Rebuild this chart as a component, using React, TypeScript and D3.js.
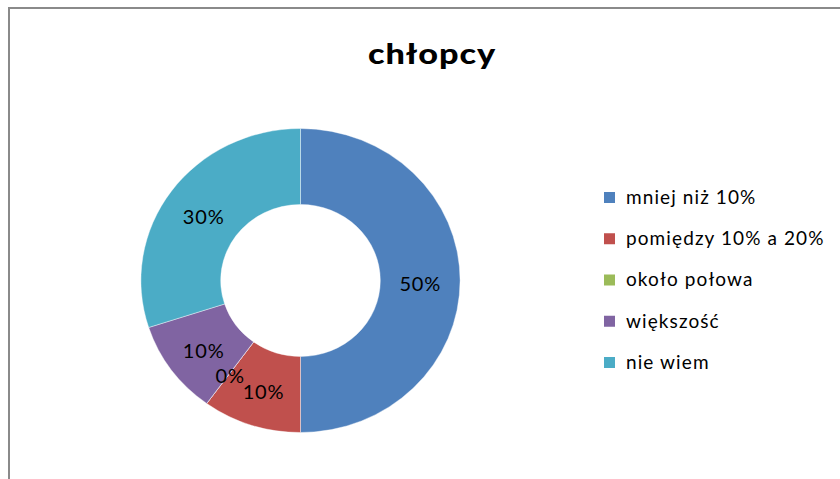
import React from "react";
import * as d3 from "d3";

// data
const title = "chłopcy";
const categories = ["mniej niż 10%", "pomiędzy 10% a 20%", "około połowa", "większość", "nie wiem"];
const values = [50, 10, 0, 10, 30];
const colors = ["#4F81BD", "#C0504D", "#9BBB59", "#8064A2", "#4BACC6"];

const FONT = "Lato, 'Noto Sans', sans-serif";

export default function App() {
  const width = 840;
  const height = 479;
  const cx = 300.5;
  const cy = 280.5;
  const outerR = 152;
  const innerR = 76;
  const sx = 1.05; // the reference donut is slightly wider than tall

  const pie = d3
    .pie<number>()
    .sort(null)
    .value((d) => d);
  const arcs = pie(values);

  const arc = d3.arc<d3.PieArcDatum<number>>().innerRadius(innerR).outerRadius(outerR);

  const total = d3.sum(values);
  const fmt = (v: number) => `${Math.round((v / total) * 100)}%`;

  // legend rows
  const legendY = d3.scalePoint<string>().domain(categories).range([198, 363]);

  return (
    <svg
      width={width}
      height={height}
      style={{ position: "absolute", left: 0, top: 0, background: "#fff" }}
    >
      <rect x={9} y={8} width={900} height={600} fill="none" stroke="#8a8a8a" strokeWidth={2} />

      {/* title glyphs in the reference are wide, so stretch horizontally */}
      <g transform="translate(432,64) scale(1.18,1)">
        <text
          x={0}
          y={0}
          textAnchor="middle"
          fontFamily={FONT}
          fontWeight="900"
          fontSize={29}
          letterSpacing={0.8}
          fill="#000"
        >
          {title}
        </text>
      </g>

      <g transform={`translate(${cx},${cy}) scale(${sx},1)`}>
        {arcs.map((a, i) => (
          <path key={i} d={arc(a) || ""} fill={colors[i]} stroke="#fff" strokeWidth={0.4} />
        ))}
      </g>

      {arcs.map((a, i) => {
        const [x, y] = arc.centroid(a);
        return (
          <text
            key={i}
            x={cx + x * sx}
            y={cy + y + 5}
            textAnchor="middle"
            dominantBaseline="middle"
            fontFamily={FONT}
            fontSize={20}
            letterSpacing={0.8}
            fill="#000"
          >
            {fmt(values[i])}
          </text>
        );
      })}

      <g>
        {categories.map((c, i) => (
          <g key={c} transform={`translate(604,${legendY(c)})`}>
            <rect x={0} y={-6} width={11} height={11} fill={colors[i]} />
            <text
              x={22}
              y={1}
              dominantBaseline="middle"
              fontFamily={FONT}
              fontSize={19}
              letterSpacing={1.1}
              fill="#000"
            >
              {c}
            </text>
          </g>
        ))}
      </g>
    </svg>
  );
}
